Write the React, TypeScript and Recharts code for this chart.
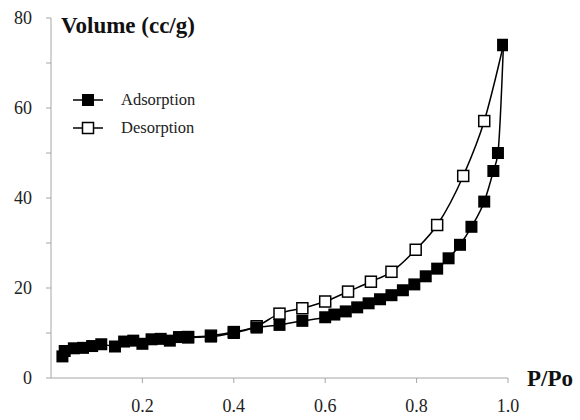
import React from 'react';
import { LineChart, Line, XAxis, YAxis, Label } from 'recharts';

// relative pressure (P/Po) and adsorbed volume (cc/g)
const adsP = [0.025, 0.03, 0.05, 0.07, 0.09, 0.11, 0.14, 0.16, 0.18, 0.2, 0.22, 0.24, 0.26, 0.28, 0.3, 0.35, 0.4, 0.45, 0.5, 0.55, 0.6, 0.62, 0.645, 0.67, 0.695, 0.72, 0.745, 0.77, 0.795, 0.82, 0.845, 0.87, 0.895, 0.92, 0.948, 0.968, 0.978, 0.99];
const adsV = [4.8, 6.0, 6.6, 6.7, 7.1, 7.5, 7.0, 8.1, 8.3, 7.6, 8.6, 8.7, 8.3, 9.1, 9.0, 9.2, 10.0, 11.2, 11.8, 12.7, 13.5, 14.1, 14.8, 15.7, 16.6, 17.5, 18.4, 19.5, 20.8, 22.6, 24.3, 26.6, 29.6, 33.6, 39.2, 46.0, 50.0, 74.0];

const desP = [0.99, 0.948, 0.902, 0.845, 0.798, 0.745, 0.7, 0.65, 0.6, 0.55, 0.5, 0.45, 0.4, 0.35, 0.3];
const desV = [74.0, 57.1, 44.9, 34.0, 28.5, 23.6, 21.4, 19.2, 17.0, 15.5, 14.3, 11.5, 10.2, 9.4, 9.1];

const xTicks = [0.2, 0.4, 0.6, 0.8, 1.0];
const yTicks = [0, 10, 20, 30, 40, 50, 60, 70, 80];
const yLabeled = [0, 20, 40, 60, 80];

const adsorption = adsP.map((p, i) => ({ p, v: adsV[i] }));
const desorption = desP.map((p, i) => ({ p, v: desV[i] }));

const font = '"Liberation Serif", "DejaVu Serif", serif';
const axisColor = '#a6a6a6';

const FilledSquare = (props: any) => {
  const { cx, cy } = props;
  if (cx == null || cy == null) return null;
  return <rect x={cx - 6} y={cy - 6} width={12} height={12} fill="#000" />;
};

const OpenSquare = (props: any) => {
  const { cx, cy } = props;
  if (cx == null || cy == null) return null;
  return <rect x={cx - 5.5} y={cy - 5.5} width={11} height={11} fill="#fff" stroke="#000" strokeWidth={1.5} />;
};

const YTick = (props: any) => {
  const { x, y, payload } = props;
  if (!yLabeled.includes(payload.value)) return null;
  return (
    <text x={x} y={y} dy="0.355em" textAnchor="end" fontFamily={font} fontSize={18} fill="#222">
      {payload.value}
    </text>
  );
};

const LegendRow = ({ filled, label }: { filled: boolean; label: string }) => (
  <div style={{ display: 'flex', alignItems: 'center', height: 28 }}>
    <svg width={32} height={14}>
      <line x1={0} y1={7} x2={30} y2={7} stroke="#000" strokeWidth={1.5} />
      {filled
        ? <rect x={9} y={1} width={12} height={12} fill="#000" />
        : <rect x={9.5} y={1.5} width={11} height={11} fill="#fff" stroke="#000" strokeWidth={1.5} />}
    </svg>
    <span style={{ marginLeft: 16, fontFamily: font, fontSize: 16.5, color: '#222' }}>{label}</span>
  </div>
);

export default function App() {
  return (
    <div style={{ position: 'absolute', left: 0, top: 0, width: 580, height: 420, background: '#fff' }}>
      <LineChart width={580} height={420} margin={{ top: 18, right: 72, bottom: 0, left: 0 }}>
        <XAxis
          type="number"
          dataKey="p"
          domain={[0, 1]}
          ticks={xTicks}
          tickFormatter={(v: number) => v.toFixed(1)}
          height={42}
          stroke={axisColor}
          tickSize={5}
          tickMargin={16}
          tick={{ fontFamily: font, fontSize: 18, fill: '#222' }}
          allowDataOverflow
        >
          <Label
            content={(p: any) => (
              <text x={p.viewBox.x + p.viewBox.width + 19} y={p.viewBox.y + 8} fontFamily={font} fontSize={23} fontWeight="bold" fill="#111">
                P/Po
              </text>
            )}
          />
        </XAxis>
        <YAxis
          type="number"
          dataKey="v"
          domain={[0, 80]}
          ticks={yTicks}
          width={51}
          stroke={axisColor}
          tickSize={5}
          tickMargin={14}
          tick={<YTick />}
        >
          <Label
            content={(p: any) => (
              <text x={p.viewBox.x + p.viewBox.width + 10} y={p.viewBox.y + 15} fontFamily={font} fontSize={23} fontWeight="bold" fill="#111">
                Volume (cc/g)
              </text>
            )}
          />
        </YAxis>
        <Line
          data={desorption}
          dataKey="v"
          type="monotone"
          stroke="#000"
          strokeWidth={1.5}
          dot={<OpenSquare />}
          activeDot={false}
          isAnimationActive={false}
        />
        <Line
          data={adsorption}
          dataKey="v"
          type="monotone"
          stroke="#000"
          strokeWidth={1.5}
          dot={<FilledSquare />}
          activeDot={false}
          isAnimationActive={false}
        />
      </LineChart>
      <div style={{ position: 'absolute', left: 73, top: 86 }}>
        <LegendRow filled label="Adsorption" />
        <LegendRow filled={false} label="Desorption" />
      </div>
    </div>
  );
}
